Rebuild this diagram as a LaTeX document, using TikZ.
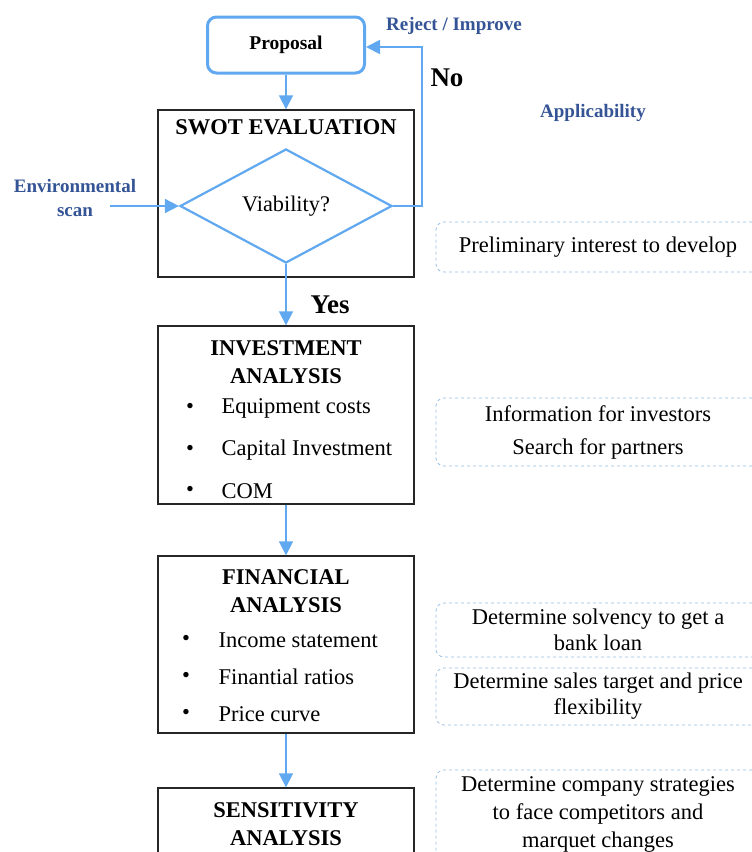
\documentclass[tikz,border=0pt]{standalone}
\usepackage{fontspec}
\setmainfont{Liberation Serif}
\usetikzlibrary{shapes.geometric,arrows.meta}
\definecolor{flowblue}{RGB}{96,168,240}
\definecolor{labelblue}{RGB}{52,84,150}
\definecolor{dashblue}{RGB}{150,190,228}
\tikzset{
  arr/.style={draw=flowblue,line width=1.8pt,-{Triangle[length=14pt,width=14pt]}},
  stage/.style={draw=black!85,line width=1.4pt,minimum width=256pt,inner sep=0pt},
  ttl/.style={font=\fontsize{22.5}{28}\selectfont\bfseries,align=center,inner sep=0pt},
  body/.style={font=\fontsize{22.5}{26}\selectfont},
  bul/.style={font=\fontsize{22.5}{26}\selectfont,anchor=west},
  lbl/.style={font=\fontsize{19}{24}\selectfont\bfseries,text=labelblue,align=center},
  appbox/.style={draw=dashblue,dashed,rounded corners=8pt,line width=0.8pt,minimum width=324pt,inner sep=0pt,
     font=\fontsize{22.5}{26}\selectfont,align=center},
}
\begin{document}
\begin{tikzpicture}[x=1pt,y=-1pt]
\useasboundingbox (0,0) rectangle (752,852);
\clip (0,0) rectangle (752,852);
% main boxes
\node[draw=flowblue,line width=3pt,rounded corners=9pt,minimum width=157pt,minimum height=56pt,
      font=\fontsize{19.5}{23}\selectfont\bfseries] (prop) at (286,45) {Proposal};
\node[stage,minimum height=167pt] (swot) at (286,193.5) {};
\node[ttl] (swott) at (286,127) {SWOT EVALUATION};
\node[draw=flowblue,line width=2.2pt,shape=diamond,aspect=1.86,minimum width=212pt,minimum height=114pt,inner sep=0pt,
      font=\fontsize{22.3}{26}\selectfont] (via) at (286,206) {Viability?};

\node[stage,minimum height=178pt] (inv) at (286,415) {};
\node[ttl] (invt) at (286,362) {INVESTMENT\\ANALYSIS};
\node[body] (ib1) at (190,408) {\textbullet};
\node[bul] (i1) at (218,408) {Equipment costs};
\node[body] (ib2) at (190,450) {\textbullet};
\node[bul] (i2) at (218,450) {Capital Investment};
\node[body] (ib3) at (190,491) {\textbullet};
\node[bul] (i3) at (218,491) {COM};

\node[stage,minimum height=177pt] (fin) at (286,644.5) {};
\node[ttl] (fint) at (286,591.5) {FINANCIAL\\ANALYSIS};
\node[body] (fb1) at (186,640) {\textbullet};
\node[bul] (f1) at (215,640) {Income statement};
\node[body] (fb2) at (186,677) {\textbullet};
\node[bul] (f2) at (215,677) {Finantial ratios};
\node[body] (fb3) at (186,714) {\textbullet};
\node[bul] (f3) at (215,714) {Price curve};

\node[stage,minimum height=110pt] (sens) at (286,843) {};
\node[ttl] (senst) at (286,824) {SENSITIVITY\\ANALYSIS};

% connectors
\draw[arr] (prop.south) -- (swot.north);
\draw[arr] (via.south) -- (inv.north);
\draw[arr] (inv.south) -- (fin.north);
\draw[arr] (fin.south) -- (sens.north);
\coordinate (envs) at (110,206);
\draw[arr] (envs) -- (via.west);
\coordinate (nr) at (422,206);
\coordinate (nt) at (422,47);
\draw[arr] (via.east) -- (nr) -- (nt) -- (prop.east |- nt);

% labels
\node[lbl] (env) at (75,198) {Environmental\\scan};
\node[lbl] (rej) at (454,26) {Reject / Improve};
\node[font=\fontsize{27}{30}\selectfont\bfseries] (no) at (447,78) {No};
\node[font=\fontsize{27}{30}\selectfont\bfseries] (yes) at (330,305) {Yes};
\node[lbl] (app) at (593,113) {Applicability};

% applicability boxes
\node[appbox,minimum height=50pt] (a1) at (598,247) {Preliminary interest to develop};
\node[appbox,minimum height=68pt] (a2) at (598,432) {Information for investors\\[7pt]Search for partners};
\node[appbox,minimum height=54pt] (a3) at (598,630) {Determine solvency to get a\\bank loan};
\node[appbox,minimum height=57pt] (a4) at (598,696.5) {Determine sales target and price\\flexibility};
\node[appbox,minimum height=100pt] (a5) at (598,820) {};
\node[font=\fontsize{22.5}{28}\selectfont,align=center] (a5t) at (598,814) {Determine company strategies\\to face competitors and\\marquet changes};
\end{tikzpicture}
\end{document}
